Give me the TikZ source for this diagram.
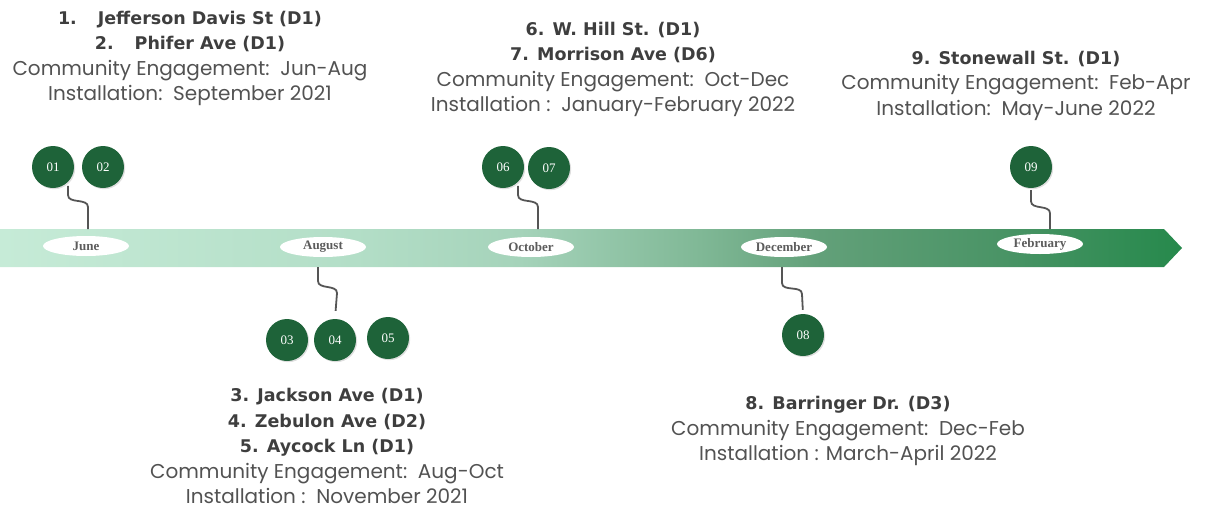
\documentclass[tikz,border=0pt]{standalone}
\usepackage{fontspec}
\setmainfont{Poppins}
\newfontfamily\headfont{DejaVu Sans}
\newfontfamily\monthfont{Liberation Serif}
\usepackage{tikz}
\usetikzlibrary{shapes,shadows,positioning}
\definecolor{dotgreen}{RGB}{30,99,57}
\definecolor{linkgray}{RGB}{85,85,85}
\definecolor{textgray}{RGB}{82,82,82}
\definecolor{headgray}{RGB}{62,62,62}
\definecolor{monthgray}{RGB}{92,92,92}
\definecolor{bandA}{RGB}{198,235,215}
\definecolor{bandB}{RGB}{179,222,199}
\definecolor{bandC}{RGB}{165,211,186}
\definecolor{bandD}{RGB}{128,184,150}
\definecolor{bandE}{RGB}{98,160,121}
\definecolor{bandF}{RGB}{74,148,102}
\definecolor{bandG}{RGB}{38,137,76}
\pgfdeclarehorizontalshading{bandshade}{100bp}{color(0bp)=(bandA); color(25bp)=(bandA); color(40bp)=(bandB); color(47bp)=(bandC); color(54.6bp)=(bandD); color(59.7bp)=(bandE); color(67.3bp)=(bandF); color(75bp)=(bandG); color(100bp)=(bandG)}
\tikzstyle{dot} = [circle, fill=dotgreen, minimum size=42pt, inner sep=0, text=white, font=\monthfont\fontsize{13}{13}\selectfont, drop shadow={opacity=0.25, shadow xshift=1.2pt, shadow yshift=-1.2pt}]
\tikzstyle{month} = [ellipse, fill=white, minimum width=86pt, minimum height=20pt, inner sep=0, text=monthgray, font=\monthfont\bfseries\fontsize{13}{13}\selectfont]
\tikzstyle{link} = [draw=linkgray, line width=1.8pt]
\tikzstyle{info} = [align=center, text=textgray, inner sep=0, anchor=north, font=\fontsize{20}{25.5}\selectfont]
\newcommand{\hd}[1]{{\headfont\bfseries\color{headgray}\fontsize{17.5}{25.5}\selectfont #1}}

\begin{document}
\begin{tikzpicture}[x=1pt,y=-1pt]
\useasboundingbox (0,0) rectangle (1208,509);
% timeline band
\shade[shading=bandshade] (0,229) -- (1164,229) -- (1182,248) -- (1164,267) -- (0,267) -- cycle;
% months
\node[month] (jun) at (86,246) {June};
\node[month] (aug) at (323,247) {August};
\node[month] (oct) at (531,247) {October};
\node[month] (dec) at (784,247) {December};
\node[month] (feb) at (1040,244) {February};
% numbered dots
\node[dot] (c01) at (53,167) {01};
\node[dot] (c02) at (103,167) {02};
\node[dot] (c03) at (287,340) {03};
\node[dot] (c04) at (335,340) {04};
\node[dot] (c05) at (388,338) {05};
\node[dot] (c06) at (503,167) {06};
\node[dot] (c07) at (549,168) {07};
\node[dot] (c08) at (803,335) {08};
\node[dot] (c09) at (1031,167) {09};
% where the links meet the band
\coordinate (j01) at (88,229);
\coordinate (j04) at (318,267);
\coordinate (j06) at (538,229);
\coordinate (j08) at (782,267);
\coordinate (j09) at (1050,229);
% links
\draw[link, shorten <=4pt] (c01.-45) -- ++(0,13) to[out=-90,in=90] ++(20,12) -- (j01);
\draw[link, shorten <=4pt] (c06.-45) -- ++(0,13) to[out=-90,in=90] ++(20,12) -- (j06);
\draw[link, shorten <=2pt] (c09.south) -- ++(0,13) to[out=-90,in=90] ++(19,12) -- (j09);
\draw[link, shorten >=8pt] (j04) -- ++(0,14) to[out=-90,in=90] ++(19,12) -- (c04.north);
\draw[link, shorten >=4pt] (j08) -- ++(0,16) to[out=-90,in=90] ++(20,11) -- (c08.north);
% texts
\node[info] (t12) at (190,11) {\hd{1.\hspace{1.2em}Jefferson Davis St (D1)}\\ \hd{2.\hspace{1.2em}Phifer Ave (D1)}\\ Community Engagement:\ \ Jun-Aug\\ Installation:\ \ September 2021};
\node[info] (t67) at (613,22) {\hd{6. W. Hill St. (D1)}\\ \hd{7. Morrison Ave (D6)}\\ Community Engagement:\ \ Oct-Dec\\ Installation :\ \ January-February 2022};
\node[info] (t9) at (1016,51) {\hd{9. Stonewall St. (D1)}\\ Community Engagement:\ \ Feb-Apr\\ Installation:\ \ May-June 2022};
\node[info] (t345) at (327,388) {\hd{3. Jackson Ave (D1)}\\ \hd{4. Zebulon Ave (D2)}\\ \hd{5. Aycock Ln (D1)}\\ Community Engagement:\ \ Aug-Oct\\ Installation :\ \ November 2021};
\node[info] (t8) at (848,396) {\hd{8. Barringer Dr. (D3)}\\ Community Engagement:\ \ Dec-Feb\\ Installation : March-April 2022};
\end{tikzpicture}
\end{document}
